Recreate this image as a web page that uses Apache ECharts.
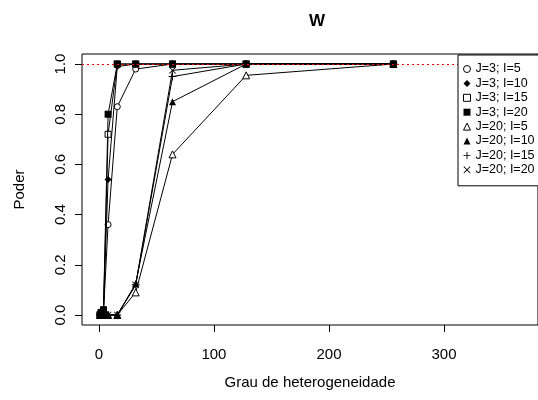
<!DOCTYPE html>
<html>
<head>
<meta charset="utf-8">
<script src="https://cdn.jsdelivr.net/npm/echarts@6/dist/echarts.min.js"></script>
<style>
html,body{margin:0;padding:0;background:#fff;}
#c{width:538px;height:400px;}
</style>
</head>
<body>
<div id="c"></div>
<script>
// Data
const xValues = [1, 2, 4, 8, 16, 32, 64, 128, 256];
const seriesNames = ['J=3; I=5','J=3; I=10','J=3; I=15','J=3; I=20','J=20; I=5','J=20; I=10','J=20; I=15','J=20; I=20'];
const J3I5   = [0, 0, 0.01, 0.36, 0.83, 0.98, 1, 1, 1];
const J3I10  = [0, 0, 0.02, 0.54, 0.99, 1, 1, 1, 1];
const J3I15  = [0, 0.01, 0.02, 0.72, 1, 1, 1, 1, 1];
const J3I20  = [0, 0.01, 0.02, 0.80, 1, 1, 1, 1, 1];
const J20I5  = [0, 0, 0, 0, 0, 0.09, 0.64, 0.955, 1];
const J20I10 = [0, 0, 0, 0, 0, 0.125, 0.85, 1, 1];
const J20I15 = [0, 0, 0, 0, 0, 0.12, 0.95, 1, 1];
const J20I20 = [0, 0, 0, 0, 0, 0.12, 0.975, 1, 1];
const xTicks = [0, 100, 200, 300];
const yTicks = [0, 0.2, 0.4, 0.6, 0.8, 1.0];
const refLine = 1;

const allValues = [J3I5, J3I10, J3I15, J3I20, J20I5, J20I10, J20I15, J20I20];

const plusPath = 'path://M-1.3,-10L1.3,-10L1.3,-1.3L10,-1.3L10,1.3L1.3,1.3L1.3,10L-1.3,10L-1.3,1.3L-10,1.3L-10,-1.3L-1.3,-1.3Z';
const crossPath = 'path://M-10,-8.2L-8.2,-10L0,-1.8L8.2,-10L10,-8.2L1.8,0L10,8.2L8.2,10L0,1.8L-8.2,10L-10,8.2L-1.8,0Z';

const open = {color:'#fff', borderColor:'#000', borderWidth:1};
const filled = {color:'#000', borderColor:'#000', borderWidth:0};
const styles = [
  {symbol:'circle', size:6, item:open},
  {symbol:'diamond', size:7, item:filled},
  {symbol:'rect', size:6, item:open},
  {symbol:'rect', size:7, item:filled},
  {symbol:'triangle', size:7, item:open},
  {symbol:'triangle', size:7, item:filled},
  {symbol:plusPath, size:8, item:filled},
  {symbol:crossPath, size:7, item:filled}
];

const series = seriesNames.map((name, i) => ({
  name: name,
  type: 'line',
  data: xValues.map((x, k) => [x, allValues[i][k]]),
  symbol: styles[i].symbol,
  symbolSize: styles[i].size,
  showAllSymbol: true,
  itemStyle: styles[i].item,
  lineStyle: {color:'#000', width:1},
  emphasis: {disabled:true},
  z: 3 + i*0.01
}));
series.push({
  name: 'ref',
  type: 'line',
  data: [],
  markLine: {
    silent: true,
    symbol: ['none','none'],
    label: {show:false},
    lineStyle: {color:'#ff0000', width:1, type:[2,3]},
    data: [{yAxis: refLine}]
  },
  z: 2
});

const chart = echarts.init(document.getElementById('c'), null, {renderer:'canvas'});
const font = 'Liberation Sans, Arial, sans-serif';
chart.setOption({
  animation: false,
  backgroundColor: '#fff',
  textStyle: {fontFamily: font},
  title: {
    text: 'W',
    left: 312,
    top: 8,
    textAlign: 'center',
    textStyle: {fontSize: 17, fontWeight: 'bold', color: '#000', fontFamily: font}
  },
  grid: {
    left: 82, top: 54, width: 460, height: 271,
    show: true, borderColor: '#000', borderWidth: 1, backgroundColor: 'transparent'
  },
  xAxis: {
    type: 'value',
    min: -14.68, max: 381.7,
    name: 'Grau de heterogeneidade',
    nameLocation: 'middle',
    nameGap: 50,
    nameTextStyle: {fontSize: 15, color: '#000', fontFamily: font},
    axisLine: {show: false, onZero: false},
    axisTick: {show: true, length: 7, lineStyle: {color: '#000'}, customValues: xTicks},
    axisLabel: {color: '#000', fontSize: 15, margin: 22, fontFamily: font, customValues: xTicks},
    splitLine: {show: false}
  },
  yAxis: {
    type: 'value',
    min: -0.04, max: 1.04,
    name: 'Poder',
    nameLocation: 'middle',
    nameRotate: 90,
    nameGap: 55,
    nameTextStyle: {fontSize: 15, color: '#000', fontFamily: font},
    axisLine: {show: false, onZero: false},
    axisTick: {show: true, length: 7, lineStyle: {color: '#000'}, customValues: yTicks},
    axisLabel: {color: '#000', fontSize: 15, margin: 14, rotate: 90, fontFamily: font,
      customValues: yTicks, formatter: v => v.toFixed(1)},
    splitLine: {show: false}
  },
  legend: {
    orient: 'vertical',
    left: 458,
    top: 55,
    padding: [7, 40, 9, 5],
    backgroundColor: '#fff',
    borderColor: '#000',
    borderWidth: 1,
    borderRadius: 0,
    itemWidth: 7,
    itemHeight: 7,
    itemGap: 0.4,
    selectedMode: false,
    textStyle: {fontSize: 12.5, color: '#000', lineHeight: 14, fontFamily: font, padding: [0,0,0,0]},
    data: seriesNames.map((n, i) => ({name: n, icon: styles[i].symbol, itemStyle: styles[i].item})),
    z: 10
  },
  series: series
});
</script>
</body>
</html>
